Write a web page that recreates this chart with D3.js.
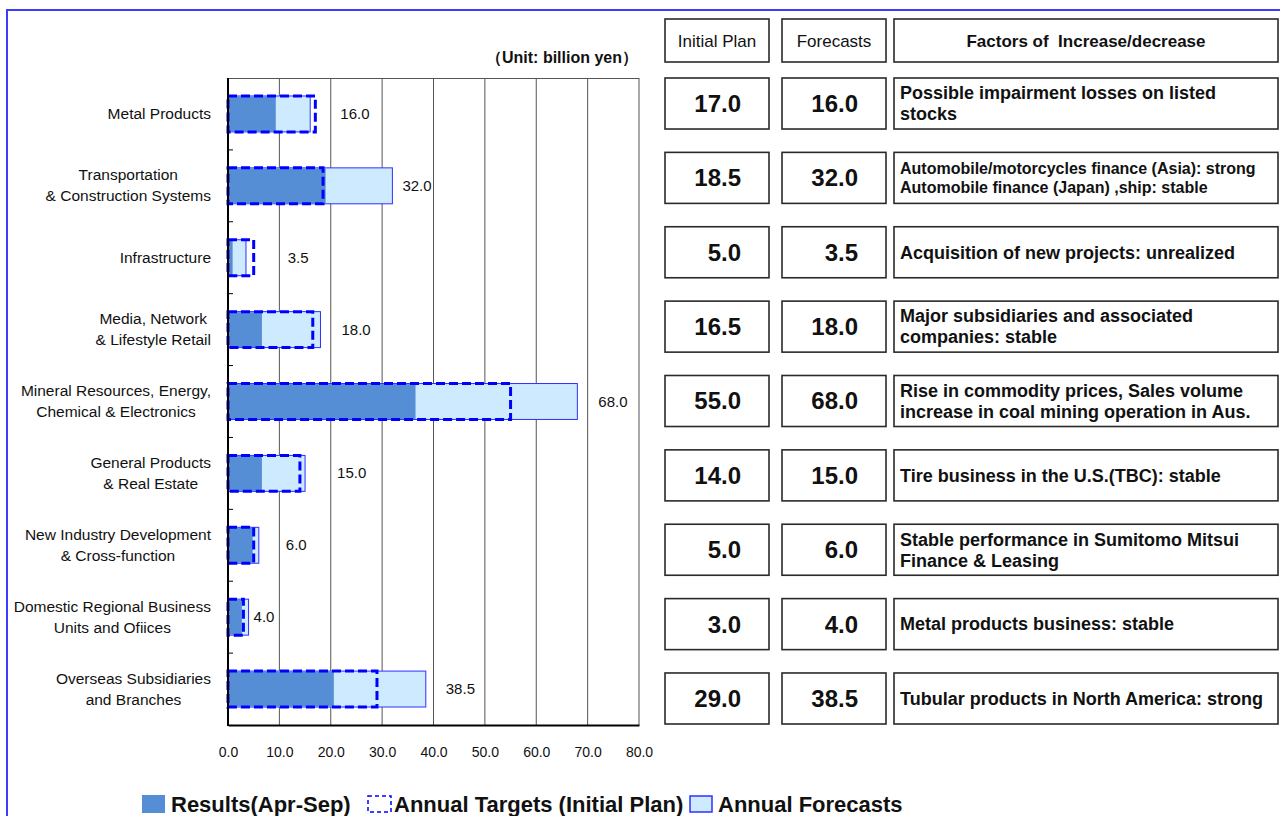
<!DOCTYPE html>
<html>
<head>
<meta charset="utf-8">
<script src="https://cdn.jsdelivr.net/npm/d3@7"></script>
<style>
  html, body { margin: 0; padding: 0; background: #fff; }
  svg { display: block; font-family: "Liberation Sans", Arial, sans-serif; }
</style>
</head>
<body>
<svg id="chart" width="1280" height="816"></svg>
<script>
// chart data (billion yen)
const categories = [
    "Metal Products",
    "Transportation\n& Construction Systems",
    "Infrastructure",
    "Media, Network\n& Lifestyle Retail",
    "Mineral Resources, Energy,\nChemical & Electronics",
    "General Products\n& Real Estate",
    "New Industry Development\n& Cross-function",
    "Domestic Regional Business\nUnits and Ofiices",
    "Overseas Subsidiaries\nand Branches"
];
const results = [9.3, 19.0, 0.9, 6.6, 36.5, 6.6, 4.8, 2.7, 20.6];
const initialPlan = [17.0, 18.5, 5.0, 16.5, 55.0, 14.0, 5.0, 3.0, 29.0];
const forecasts = [16.0, 32.0, 3.5, 18.0, 68.0, 15.0, 6.0, 4.0, 38.5];
const factors = [
    "Possible impairment losses on listed\nstocks",
    "Automobile/motorcycles finance (Asia): strong\nAutomobile finance (Japan) ,ship: stable",
    "Acquisition of new projects: unrealized",
    "Major subsidiaries and associated\ncompanies: stable",
    "Rise in commodity prices, Sales volume\nincrease in coal mining operation in Aus.",
    "Tire business in the U.S.(TBC): stable",
    "Stable performance in Sumitomo Mitsui\nFinance & Leasing",
    "Metal products business: stable",
    "Tubular products in North America: strong"
];
const xTicks = [0, 10, 20, 30, 40, 50, 60, 70, 80];
const tableHeaders = ["Initial Plan", "Forecasts", "Factors of  Increase/decrease"];
const legendLabels = ["Results(Apr-Sep)", "Annual Targets (Initial Plan)", "Annual Forecasts"];
const unitLabel = "（Unit: billion yen）";

// layout
const valueLabelGap = [25, 10, 34, 21, 21, 32, 27, 5, 20];
const colX = [665, 782, 894];
const colW = [104, 104, 384];
const legendSwatchX = [142, 368, 690];
const legendTextX = [171, 394, 718];
const fmt = d3.format(".1f");

const svg = d3.select("#chart");

// outer blue frame
svg.append("rect")
    .attr("x", 7).attr("y", 10)
    .attr("width", 1400).attr("height", 1000)
    .attr("fill", "none").attr("stroke", "#3c3cff").attr("stroke-width", 2);

// scales
const x = d3.scaleLinear().domain([0, 80]).range([228, 639]);
const y = d3.scaleBand()
    .domain(d3.range(categories.length))
    .range([78, 725])
    .paddingInner(0.5)
    .paddingOuter(0.25);
const [plotTop, plotBottom] = y.range();

// gridlines + top border
svg.append("g").selectAll("line")
    .data(xTicks.slice(1))
    .join("line")
    .attr("x1", d => x(d)).attr("x2", d => x(d))
    .attr("y1", plotTop).attr("y2", plotBottom)
    .attr("stroke", "#555").attr("stroke-width", 1);
svg.append("line")
    .attr("x1", x(0)).attr("x2", x(80))
    .attr("y1", plotTop + 0.5).attr("y2", plotTop + 0.5)
    .attr("stroke", "#555");

// bars: forecast behind, results, dashed initial plan on top
const bars = svg.append("g");
bars.selectAll(".fc")
    .data(forecasts)
    .join("rect")
    .attr("x", x(0))
    .attr("y", (d, i) => y(i))
    .attr("width", d => x(d) - x(0))
    .attr("height", y.bandwidth())
    .attr("fill", "#cdeafe")
    .attr("stroke", "#3030ff").attr("stroke-width", 1);
bars.selectAll(".res")
    .data(results)
    .join("rect")
    .attr("x", x(0))
    .attr("y", (d, i) => y(i) + 0.5)
    .attr("width", d => x(d) - x(0))
    .attr("height", y.bandwidth() - 1)
    .attr("fill", "#558ed5");
bars.selectAll(".plan")
    .data(initialPlan)
    .join("rect")
    .attr("x", x(0))
    .attr("y", (d, i) => y(i))
    .attr("width", d => x(d) - x(0))
    .attr("height", y.bandwidth())
    .attr("fill", "none")
    .attr("stroke", "#0000ff").attr("stroke-width", 3)
    .attr("stroke-dasharray", "9,4");

// value labels (forecasts)
svg.append("g").selectAll("text")
    .data(forecasts)
    .join("text")
    .attr("x", (d, i) => x(Math.max(d, initialPlan[i])) + valueLabelGap[i])
    .attr("y", (d, i) => y(i) + y.bandwidth() / 2 + 5)
    .attr("font-size", 15)
    .attr("fill", "#111")
    .text(d => fmt(d));

// bottom axis
const xAxis = svg.append("g")
    .attr("transform", `translate(0,${plotBottom})`)
    .call(d3.axisBottom(x).tickValues(xTicks).tickFormat(fmt).tickSize(0).tickSizeOuter(0).tickPadding(22));
xAxis.select(".domain").attr("stroke", "#000").attr("stroke-width", 2);
xAxis.selectAll("text").attr("font-size", 14).attr("fill", "#111")
    .attr("font-family", "Liberation Sans, Arial, sans-serif");

// left axis with inward ticks at category boundaries
svg.append("line")
    .attr("x1", x(0)).attr("x2", x(0))
    .attr("y1", plotTop).attr("y2", plotBottom + 1)
    .attr("stroke", "#000").attr("stroke-width", 2);
svg.append("g").selectAll("line")
    .data(d3.range(1, categories.length))
    .join("line")
    .attr("x1", x(0)).attr("x2", x(0) + 5)
    .attr("y1", i => plotTop + i * y.step())
    .attr("y2", i => plotTop + i * y.step())
    .attr("stroke", "#000").attr("stroke-width", 1);

// category labels: lines centred, block right-aligned
const labelRight = 211;
const catLineH = 21;
categories.forEach((name, i) => {
    const lines = name.split("\n");
    const cy = y(i) + y.bandwidth() / 2;
    const t = svg.append("text")
        .attr("font-size", 15.5)
        .attr("fill", "#111")
        .attr("text-anchor", "middle");
    const spans = lines.map((ln, k) => t.append("tspan")
        .attr("y", cy - (lines.length - 1) * catLineH / 2 + k * catLineH + 5)
        .text(ln));
    const maxW = d3.max(spans, s => s.node().getComputedTextLength());
    spans.forEach(s => s.attr("x", labelRight - maxW / 2));
});

// unit label
svg.append("text")
    .attr("x", 638).attr("y", 63)
    .attr("text-anchor", "end")
    .attr("font-size", 16).attr("font-weight", "bold")
    .attr("fill", "#111")
    .text(unitLabel);

// table on the right
const boxStroke = "#2a2a2a";
tableHeaders.forEach((h, c) => {
    svg.append("rect")
        .attr("x", colX[c]).attr("y", 19)
        .attr("width", colW[c]).attr("height", 43)
        .attr("fill", "#fff").attr("stroke", boxStroke).attr("stroke-width", 1.6);
    svg.append("text")
        .attr("x", colX[c] + colW[c] / 2).attr("y", 47)
        .attr("text-anchor", "middle")
        .attr("font-size", 17)
        .attr("font-weight", c === 2 ? "bold" : "normal")
        .attr("fill", "#111")
        .style("white-space", "pre")
        .text(h);
});

const rowY = d3.scaleBand()
    .domain(d3.range(categories.length))
    .range([78, 724])
    .paddingInner(0.314)
    .paddingOuter(0);

const rows = svg.append("g").selectAll("g")
    .data(categories.map((c, i) => ({ plan: initialPlan[i], fc: forecasts[i], factor: factors[i], i })))
    .join("g")
    .attr("transform", d => `translate(0,${rowY(d.i)})`);

rows.each(function (d) {
    const g = d3.select(this);
    const h = rowY.bandwidth();
    colX.forEach((cx, c) => {
        g.append("rect")
            .attr("x", cx).attr("y", 0)
            .attr("width", colW[c]).attr("height", h)
            .attr("fill", "#fff").attr("stroke", boxStroke).attr("stroke-width", 1.6);
    });
    [d.plan, d.fc].forEach((v, c) => {
        g.append("text")
            .attr("x", colX[c] + colW[c] - 28)
            .attr("y", h / 2 + 8.5)
            .attr("text-anchor", "end")
            .attr("font-size", 24).attr("font-weight", "bold")
            .attr("fill", "#111")
            .text(fmt(v));
    });
    const lines = d.factor.split("\n");
    const fs = d.i === 1 ? 16 : 18;
    const lh = d.i === 1 ? 19.5 : 21;
    const t = g.append("text")
        .attr("font-size", fs).attr("font-weight", "bold")
        .attr("fill", "#111");
    lines.forEach((ln, k) => {
        t.append("tspan")
            .attr("x", colX[2] + 6)
            .attr("y", h / 2 - (lines.length - 1) * lh / 2 + k * lh + fs * 0.35)
            .text(ln);
    });
});

// legend
const legend = svg.append("g");
legend.append("rect")
    .attr("x", legendSwatchX[0]).attr("y", 795)
    .attr("width", 23).attr("height", 18)
    .attr("fill", "#558ed5");
legend.append("rect")
    .attr("x", legendSwatchX[1]).attr("y", 796)
    .attr("width", 23).attr("height", 16)
    .attr("fill", "#fff").attr("stroke", "#0000ff").attr("stroke-width", 1.5)
    .attr("stroke-dasharray", "4,3");
legend.append("rect")
    .attr("x", legendSwatchX[2]).attr("y", 796)
    .attr("width", 22).attr("height", 16)
    .attr("fill", "#cdeafe").attr("stroke", "#3030ff").attr("stroke-width", 1.5);
legend.selectAll("text")
    .data(legendLabels)
    .join("text")
    .attr("x", (d, i) => legendTextX[i])
    .attr("y", 812)
    .attr("font-size", 22).attr("font-weight", "bold")
    .attr("fill", "#111")
    .text(d => d);
</script>
</body>
</html>
